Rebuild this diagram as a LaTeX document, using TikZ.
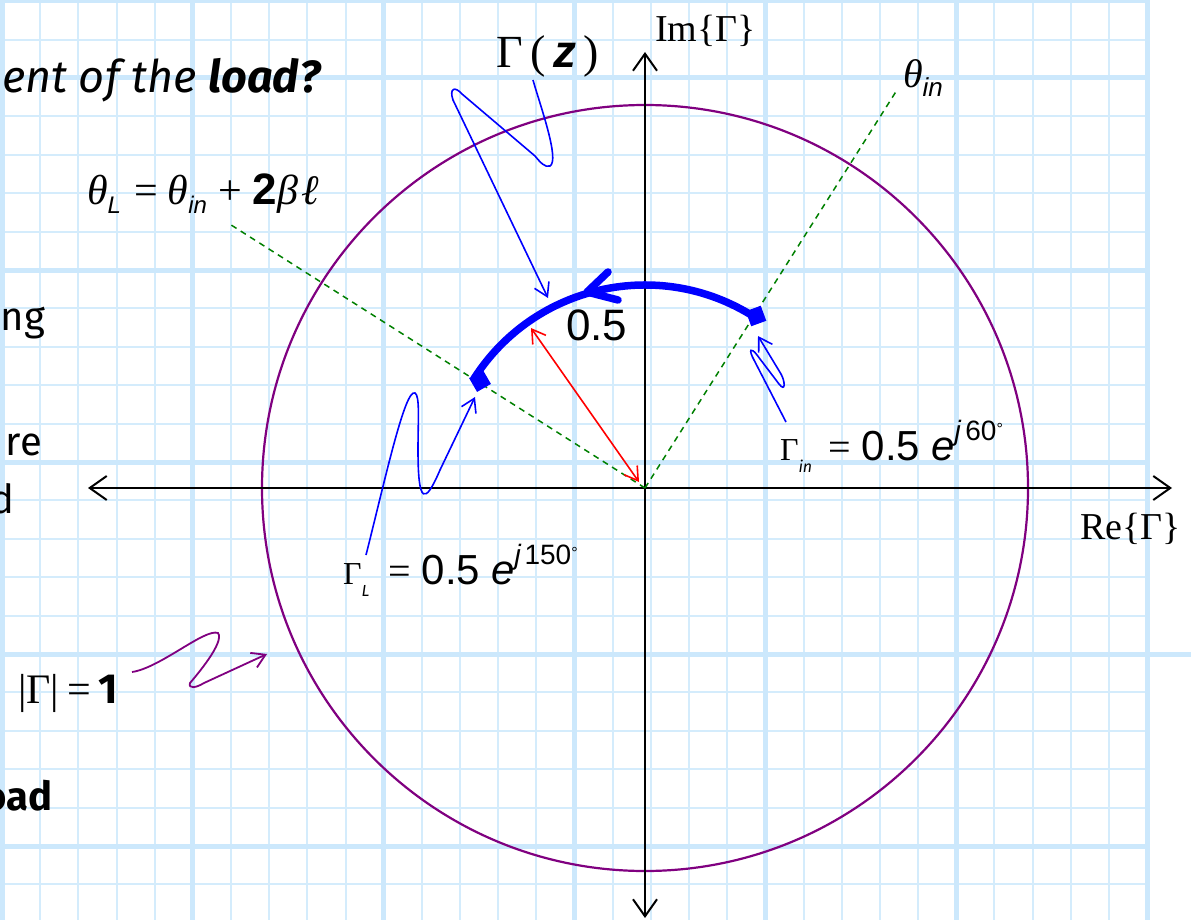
\documentclass[tikz,border=0pt]{standalone}
\usepackage{fontspec}
\setmainfont{Liberation Serif}
\newfontfamily\arial{Liberation Sans}
\newfontfamily\comic{Fira Sans}
\usetikzlibrary{arrows.meta,calc}
\definecolor{gthinc}{RGB}{212,236,252}
\definecolor{gthickc}{RGB}{204,232,252}
\definecolor{purp}{RGB}{128,0,128}
\definecolor{grn}{RGB}{0,128,0}
\tikzset{
  gthin/.style={draw=gthinc, line width=2pt},
  gthick/.style={draw=gthickc, line width=5pt},
  axis/.style={draw=black, line width=2pt, {Straight Barb[length=17pt,width=24pt]}-{Straight Barb[length=17pt,width=24pt]}},
  gdash/.style={draw=grn, line width=1.5pt, dash pattern=on 6pt off 5pt},
  redarr/.style={draw=red, line width=1.6pt, {Straight Barb[length=13pt,width=16pt]}-{Straight Barb[length=13pt,width=16pt]}},
  bptr/.style={draw=blue, line width=1.6pt, -{Straight Barb[length=13pt,width=16pt]}},
  pptr/.style={draw=purp, line width=1.8pt, -{Straight Barb[length=13pt,width=16pt]}},
  marker/.style={rectangle, fill=blue, minimum size=16pt, inner sep=0pt},
  lbl/.style={inner sep=0pt, outer sep=0pt},
}
\newcommand{\subin}[1]{\raisebox{-12pt}{\comic\itshape\fontsize{16}{16}\selectfont #1}}
\newcommand{\bigeq}{{\fontsize{40}{40}\selectfont =}}
\begin{document}
\begin{tikzpicture}[x=1pt,y=-1pt]
\useasboundingbox (0,0) rectangle (1191,920);
\clip (0,0) rectangle (1191,920);
\fill[white] (0,0) rectangle (1191,920);
% grid
\foreach \k in {0,...,30} \draw[gthin] ({2+38.17*\k},0) -- ({2+38.17*\k},920);
\foreach \k in {-2,...,21} \draw[gthin] (0,{78+38.4*\k}) -- (1149,{78+38.4*\k});
\foreach \k in {0,...,6} \draw[gthick] ({2+190.85*\k},0) -- ({2+190.85*\k},920);
\foreach \k in {0,...,4} \draw[gthick] (0,{78+192*\k}) -- (1149,{78+192*\k});
\draw[gthick] (1149,654) -- (1191,654);
\draw[gthick] (0,1) -- (1149,1);

% left side text fragments
\node[lbl, anchor=base west] (title) at (2,93) {\comic\itshape\fontsize{45}{50}\selectfont ent of the \bfseries load?};
\node[lbl, anchor=base east] (fng) at (45,330) {\comic\fontsize{40}{44}\selectfont ng};
\node[lbl, anchor=base east] (fre) at (42,455) {\comic\fontsize{40}{44}\selectfont re};
\node[lbl, anchor=base east] (fd) at (14,513) {\comic\fontsize{40}{44}\selectfont d};
\node[lbl, anchor=base east] (foad) at (52,810) {\comic\bfseries\fontsize{40}{44}\selectfont oad};

% coordinates
\coordinate (O) at (645,488);
\coordinate (xl) at (88,488);
\coordinate (xr) at (1172,488);
\coordinate (yb) at (645,918);
\coordinate (yt) at (645,52);
\coordinate (thin) at (897,90);
\coordinate (thL) at (228,223);
\coordinate (tipz) at (548,298);
\coordinate (tipL) at (475,397);
\coordinate (tipIn) at (758,336);
\coordinate (tipC) at (267,654);

% unit circle
\draw[purp, line width=2.2pt] (O) circle[radius=383];

% axes
\draw[axis] (xl) -- (xr);
\draw[axis] (yb) -- (yt);

% green dashed
\draw[gdash] (O) -- (thin);
\draw[gdash] (O) -- (thL);

% blue arc
\draw[blue, line width=7.5pt] ($(O)+(-57.5:203)$) arc[start angle=-57.5, end angle=-147.5, radius=203];
\draw[blue, line width=7.5pt, line cap=round, line join=round] (608,272) -- (587,292) -- (618,300);
\node[marker, rotate=20] (mIn) at (756,316) {};
\node[marker, rotate=30] (mL) at (480,381) {};

% red double arrow
\coordinate (rA) at (639,482);
\coordinate (rB) at (531,328);
\draw[redarr] (rA) -- (rB);
\node[lbl, anchor=base west] (half) at (566,340) {\arial\fontsize{44}{46}\selectfont 0.5};

% labels
\node[lbl, anchor=base west] (imlab) at (655,42) {\fontsize{38}{40}\selectfont Im\{Γ\}};
\node[lbl, anchor=base west] (relab) at (1080,539) {\fontsize{38}{40}\selectfont Re\{Γ\}};
\node[lbl, anchor=base west] (gz) at (496,68) {\fontsize{46}{50}\selectfont Γ\,(\,{\arial\bfseries\itshape z}\,)};
\node[lbl, anchor=base west] (thinlab) at (903,88) {\fontsize{40}{44}\selectfont\textit{θ}\raisebox{-9pt}{\arial\itshape\fontsize{26}{26}\selectfont in}};
\node[lbl, anchor=base west] (thLlab) at (87,205) {\fontsize{42}{46}\selectfont\textit{θ}\raisebox{-9pt}{\arial\itshape\fontsize{24}{24}\selectfont L}\hspace{14pt}=\hspace{9pt}\textit{θ}\raisebox{-9pt}{\arial\itshape\fontsize{24}{24}\selectfont in}\hspace{12pt}+\hspace{10pt}{\arial\bfseries\fontsize{44}{46}\selectfont 2}\textit{β}\hspace{3pt}\textit{ℓ}};
\node[lbl, anchor=base west] (gin) at (780,460) {\fontsize{32}{36}\selectfont Γ\subin{in}\hspace{16pt}\bigeq\hspace{11pt}{\arial\fontsize{42}{44}\selectfont 0.5\hspace{11pt}\textit{e}\raisebox{20pt}{\fontsize{28}{28}\selectfont\textit{j}\hspace{4pt}60\raisebox{6pt}{\fontsize{16}{16}\selectfont °}}}};
\node[lbl, anchor=base west] (gL) at (343,584) {\fontsize{32}{36}\selectfont Γ\subin{L}\hspace{19pt}\bigeq\hspace{11pt}{\arial\fontsize{42}{44}\selectfont 0.5\hspace{11pt}\textit{e}\raisebox{20pt}{\fontsize{28}{28}\selectfont\textit{j}\hspace{3pt}150\raisebox{6pt}{\fontsize{16}{16}\selectfont °}}}};
\node[lbl, anchor=base west] (gone) at (18,703) {\fontsize{42}{46}\selectfont |Γ|\hspace{8pt}=\hspace{8pt}{\comic\bfseries 1}};

% pointers
\draw[bptr] (533,80) .. controls (540,105) and (560,160) .. (550,166) .. controls (545,168) and (540,162) .. (535,156) -- (462,94) .. controls (455,86) and (449,88) .. (453,100) -- (tipz);
\draw[bptr] (366,555) .. controls (385,480) and (405,388) .. (415,393) .. controls (420,396) and (418,420) .. (418,450) .. controls (418,505) and (425,505) .. (440,470) -- (tipL);
\draw[bptr] (786,422) -- (754,360) .. controls (748,349) and (751,347) .. (757,355) -- (779,384) .. controls (786,393) and (785,381) .. (781,374) -- (tipIn);
\draw[pptr] (132,672) .. controls (160,668) and (205,628) .. (218,633) .. controls (225,642) and (196,676) .. (190,683) .. controls (188,689) and (196,688) .. (204,683) -- (tipC);
\end{tikzpicture}
\end{document}
